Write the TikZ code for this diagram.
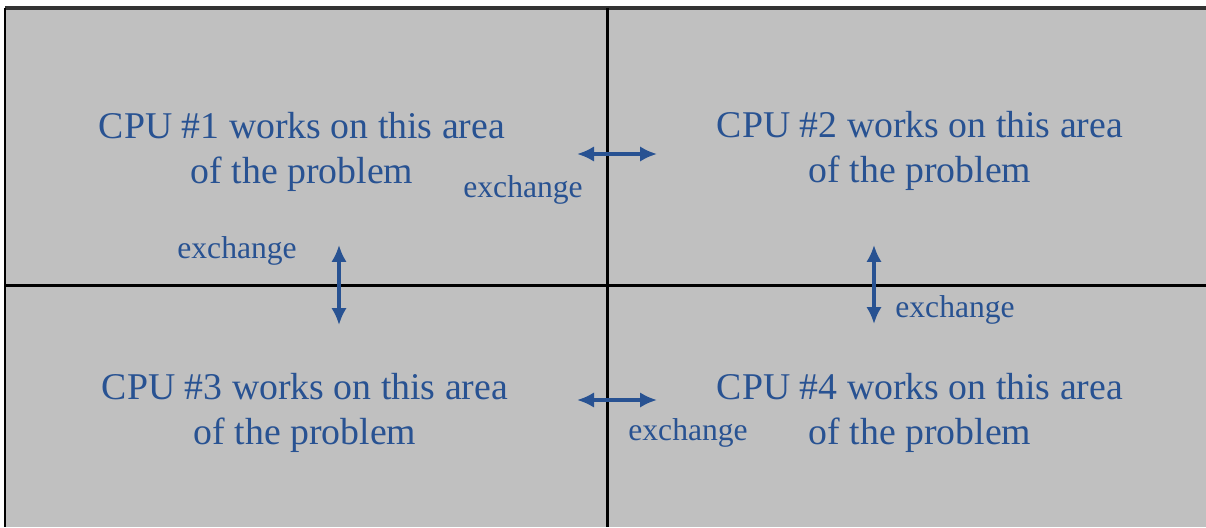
\documentclass[tikz,border=0pt]{standalone}
\usepackage{fontspec}
\setmainfont{Liberation Serif}
\usetikzlibrary{arrows.meta}
\definecolor{cpublue}{RGB}{40,82,146}
\definecolor{panelgray}{RGB}{192,192,192}
\tikzset{>={Latex[length=0.34cm,width=0.31cm]}}
\tikzset{
  cpu/.style = {text=cpublue, align=center, inner sep=0pt,
    font=\fontsize{21.5}{25.6}\selectfont},
  xlabel/.style = {text=cpublue, inner sep=0pt, anchor=base west,
    font=\fontsize{18}{21}\selectfont},
  xarrow/.style = {cpublue, line width=0.065cm, <->},
  divider/.style = {black, line width=0.06cm}
}

\begin{document}
\begin{tikzpicture}[x=0.02cm,y=-0.02cm]
  \useasboundingbox (0,0) rectangle (1206,527);
  \fill[panelgray] (5,8) rectangle (1206,527);
  \draw[black!80,line width=0.08cm] (5,8) -- (1206,8);
  \draw[divider] (5,8) -- (5,527);
  \draw[divider] (607,8) -- (607,527);
  \draw[divider] (5,285) -- (1206,285);
  \foreach \n/\X/\Y in {1/302/151.5,2/920/151,3/305/413,4/920/413} {
    \node[cpu] (cpu\n) at (\X,\Y) {CPU \#\n\ works on this area\\of the problem};
  }
  \node[xlabel] (ex12) at (463,197) {exchange};
  \node[xlabel] (ex13) at (177,258) {exchange};
  \node[xlabel] (ex24) at (895,317) {exchange};
  \node[xlabel] (ex34) at (628,440) {exchange};
  \coordinate (a12) at (577,154);
  \coordinate (b12) at (657,154);
  \coordinate (a13) at (339,245);
  \coordinate (b13) at (339,325);
  \coordinate (a24) at (874,245);
  \coordinate (b24) at (874,324);
  \coordinate (a34) at (577,400);
  \coordinate (b34) at (657,400);
  \draw[xarrow] (a12) -- (b12);
  \draw[xarrow] (a13) -- (b13);
  \draw[xarrow] (a24) -- (b24);
  \draw[xarrow] (a34) -- (b34);
\end{tikzpicture}
\end{document}
